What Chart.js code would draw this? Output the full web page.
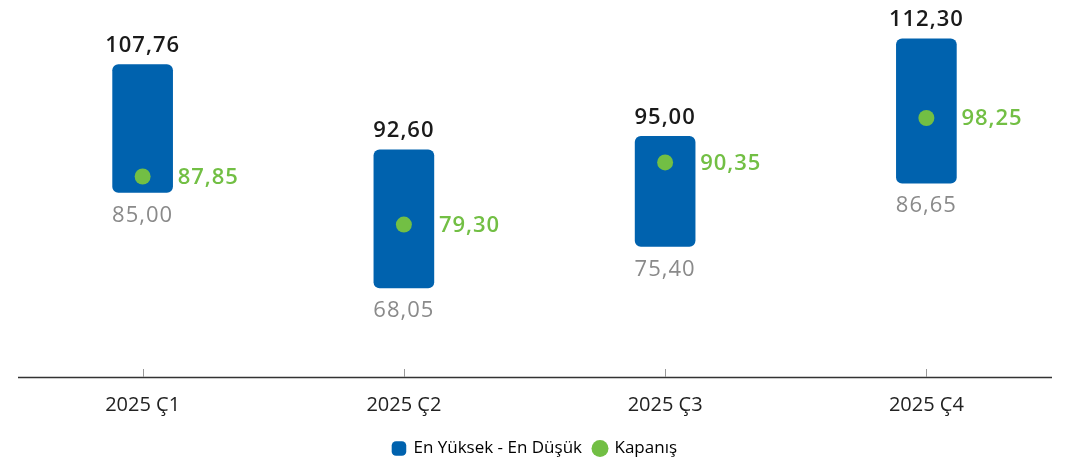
<!DOCTYPE html>
<html>
<head>
<meta charset="utf-8">
<script src="https://cdn.jsdelivr.net/npm/chart.js@4/dist/chart.umd.min.js"></script>
<style>
    html, body { margin: 0; padding: 0; background: #fff; }
    .chart-container { width: 1065px; height: 460px; position: relative; }
</style>
</head>
<body>
<div class="chart-container">
    <canvas id="chartCanvas"></canvas>
</div>
<script>
const categories = ['2025 Ç1', '2025 Ç2', '2025 Ç3', '2025 Ç4'];
const highValues = [107.76, 92.60, 95.00, 112.30];
const lowValues = [85.00, 68.05, 75.40, 86.65];
const closeValues = [87.85, 79.30, 90.35, 98.25];

const BLUE = '#0062ae';
const GREEN = '#72bf44';
const FONT = "'Open Sans', sans-serif";

const fmt = v => v.toFixed(2).replace('.', ',');

// labels above/below the bars and next to the points, plus the custom axis line
const labelPlugin = {
    id: 'rangeLabels',
    afterDatasetsDraw(chart) {
        const ctx = chart.ctx;
        const area = chart.chartArea;
        const bars = chart.getDatasetMeta(0).data;
        const points = chart.getDatasetMeta(1).data;
        ctx.save();

        // axis line and ticks
        ctx.strokeStyle = '#333';
        ctx.lineWidth = 1.3;
        ctx.beginPath();
        ctx.moveTo(area.left + 6, area.bottom + 0.5);
        ctx.lineTo(area.right - 5, area.bottom + 0.5);
        ctx.stroke();
        ctx.strokeStyle = '#999';
        ctx.lineWidth = 1;
        bars.forEach(bar => {
            const x = Math.round(bar.x) + 0.5;
            ctx.beginPath();
            ctx.moveTo(x, area.bottom - 8);
            ctx.lineTo(x, area.bottom);
            ctx.stroke();
        });

        ctx.letterSpacing = '1px';
        ctx.textAlign = 'center';
        bars.forEach((bar, i) => {
            ctx.font = '600 22px ' + FONT;
            ctx.fillStyle = '#1a1a1a';
            ctx.textBaseline = 'bottom';
            ctx.fillText(fmt(highValues[i]), bar.x, bar.y - 8);
            ctx.font = '22px ' + FONT;
            ctx.fillStyle = '#8a8a8a';
            ctx.textBaseline = 'top';
            ctx.fillText(fmt(lowValues[i]), bar.x, bar.base + 12);
        });
        ctx.textAlign = 'left';
        ctx.textBaseline = 'middle';
        ctx.font = '600 22px ' + FONT;
        ctx.fillStyle = GREEN;
        points.forEach((pt, i) => {
            ctx.fillText(fmt(closeValues[i]), pt.x + 35, pt.y + 1);
        });
        ctx.restore();
    }
};

const ctx = document.getElementById('chartCanvas').getContext('2d');
new Chart(ctx, {
    data: {
        labels: categories,
        datasets: [{
            type: 'bar',
            label: 'En Yüksek - En Düşük',
            data: categories.map((c, i) => [lowValues[i], highValues[i]]),
            backgroundColor: BLUE,
            borderRadius: 6,
            borderSkipped: false,
            barThickness: 60,
            order: 2
        }, {
            type: 'scatter',
            label: 'Kapanış',
            data: closeValues,
            backgroundColor: GREEN,
            borderWidth: 0,
            pointRadius: 8,
            pointHoverRadius: 8,
            order: 1
        }]
    },
    options: {
        responsive: true,
        maintainAspectRatio: false,
        animation: false,
        layout: {
            padding: { left: 12, right: 7, top: 0, bottom: -7 }
        },
        plugins: {
            tooltip: { enabled: false },
            legend: {
                position: 'bottom',
                labels: {
                    usePointStyle: true,
                    boxWidth: 12,
                    boxHeight: 12,
                    padding: 12,
                    color: '#222',
                    font: { family: FONT, size: 17 },
                    generateLabels(chart) {
                        return chart.data.datasets.map((ds, i) => ({
                            text: ds.label,
                            fillStyle: ds.backgroundColor,
                            strokeStyle: ds.backgroundColor,
                            lineWidth: 0,
                            pointStyle: i === 0 ? 'rectRounded' : 'circle',
                            datasetIndex: i
                        }));
                    }
                }
            }
        },
        scales: {
            x: {
                type: 'category',
                offset: true,
                grid: { display: false, drawTicks: false },
                border: { display: false },
                ticks: {
                    color: '#222',
                    padding: 16,
                    font: { family: FONT, size: 20 }
                },
                afterFit(scale) {
                    scale.height = 51;
                }
            },
            y: {
                display: false,
                min: 52.2,
                max: 117.8
            }
        }
    },
    plugins: [labelPlugin]
});
</script>
</body>
</html>
